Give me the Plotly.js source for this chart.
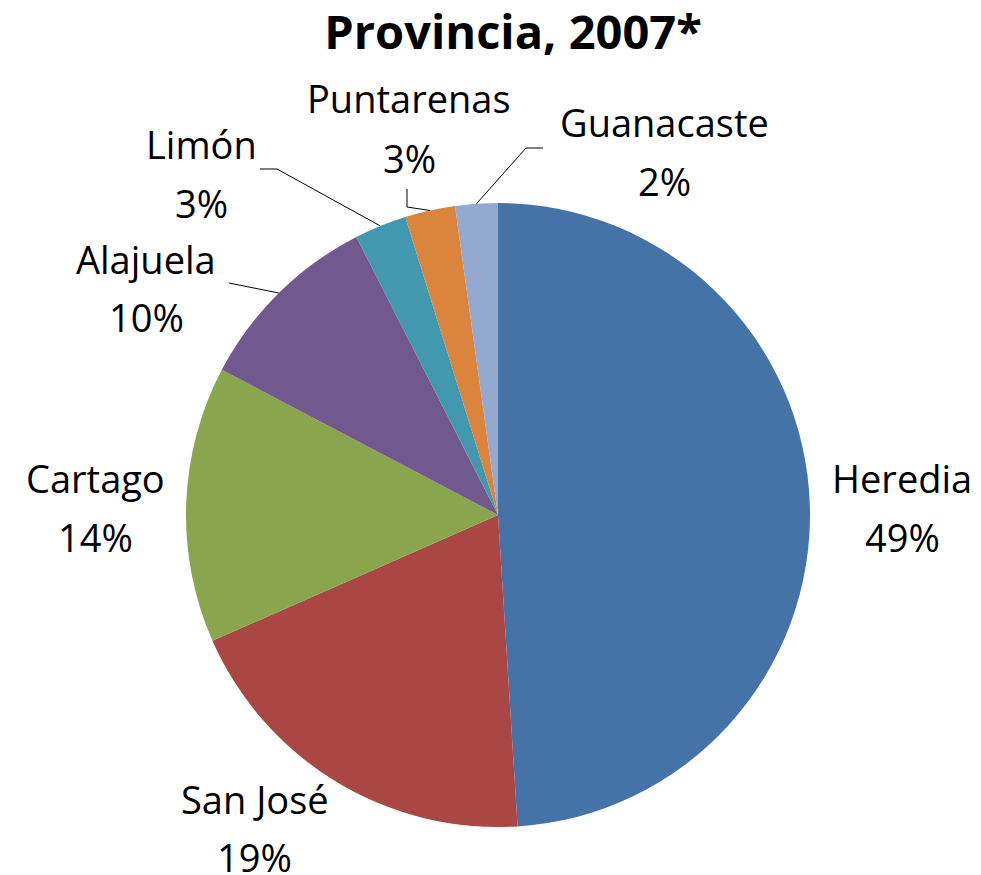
<!DOCTYPE html>
<html>
<head>
<meta charset="utf-8">
<script src="https://cdn.plot.ly/plotly-3.0.1.min.js"></script>
<style>html,body{margin:0;padding:0;background:#fff;}#chart{width:981px;height:875px;}</style>
</head>
<body>
<div id="chart"></div>
<script>
// ---- data ----
var provinces = ["Heredia", "San José", "Cartago", "Alajuela", "Limón", "Puntarenas", "Guanacaste"];
var shares = [49.0, 19.4, 14.3, 9.8, 2.7, 2.6, 2.2];
var chartTitle = "Provincia, 2007*";

// ---- styles / layout (pixels of the 981x875 page) ----
var colors = ["#4572A7", "#AA4643", "#89A54E", "#71588F", "#4198AF", "#DB843D", "#93A9CF"];
var W = 981, H = 875;
var cx = 498, cy = 515, R = 312;
// label centres: [x, y of name line, y of percent line]
var labelPos = [
  [902, 478, 537],
  [255, 799, 857],
  [95, 478, 537],
  [146, 259, 317],
  [201, 144, 203],
  [409, 98, 158],
  [664, 122, 181]
];
// leader-line label-side points (null = no leader)
var leaderPts = [
  null, null, null,
  [[229, 283]],
  [[260, 169], [277, 169]],
  [[407, 189], [407, 207]],
  [[543, 148], [526, 148]]
];

function px(x) { return x / W; }
function py(y) { return 1 - y / H; }

var FONT = "Open Sans";
var total = shares.reduce(function (a, b) { return a + b; }, 0);

var annotations = [];
var shapes = [];
var cum = 0;
for (var i = 0; i < provinces.length; i++) {
  var mid = (cum + shares[i] / 2) / total * 2 * Math.PI;
  cum += shares[i];
  var p = labelPos[i];
  annotations.push({
    xref: "paper", yref: "paper", x: px(p[0]), y: py(p[1]),
    xanchor: "center", yanchor: "middle", showarrow: false,
    text: provinces[i], font: {family: FONT, size: 38, color: "#000"}
  });
  annotations.push({
    xref: "paper", yref: "paper", x: px(p[0]), y: py(p[2]),
    xanchor: "center", yanchor: "middle", showarrow: false,
    text: Math.round(shares[i] / total * 100) + "%", font: {family: FONT, size: 38, color: "#000"}
  });
  if (leaderPts[i]) {
    var ex = cx + R * Math.sin(mid), ey = cy - R * Math.cos(mid);
    var pts = leaderPts[i].concat([[ex, ey]]);
    var d = "";
    pts.forEach(function (q, k) { d += (k ? " L " : "M ") + px(q[0]) + "," + py(q[1]); });
    shapes.push({type: "path", xref: "paper", yref: "paper", path: d,
      line: {color: "#000", width: 1}});
  }
}

var trace = {
  type: "pie",
  labels: provinces,
  values: shares,
  sort: false,
  direction: "clockwise",
  rotation: 0,
  textinfo: "none",
  hoverinfo: "label+percent",
  marker: {colors: colors, line: {width: 0}},
  domain: {x: [px(cx - R), px(cx + R)], y: [py(cy + R), py(cy - R)]},
  showlegend: false
};

var layout = {
  width: W, height: H,
  margin: {l: 0, r: 0, t: 0, b: 0},
  paper_bgcolor: "#fff",
  showlegend: false,
  title: {
    text: "<b>" + chartTitle + "</b>",
    x: px(513), xanchor: "center", xref: "paper",
    y: py(33), yanchor: "middle", yref: "paper",
    font: {family: FONT, size: 47, color: "#000"}
  },
  annotations: annotations,
  shapes: shapes
};

Plotly.newPlot("chart", [trace], layout, {displayModeBar: false, staticPlot: true});
</script>
</body>
</html>
